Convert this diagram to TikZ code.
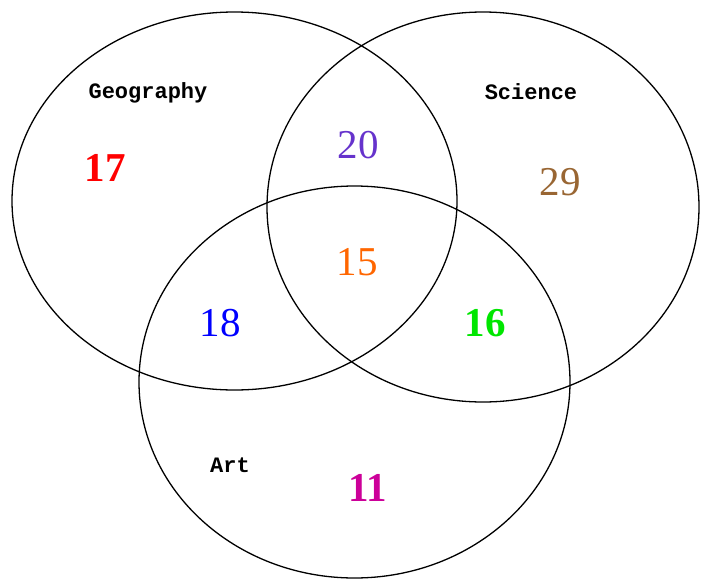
\documentclass[tikz,border=0pt]{standalone}
\usepackage{fontspec}
\setmainfont{Liberation Serif}
\setmonofont{Liberation Mono}
\usepackage{xcolor}
\usetikzlibrary{positioning}
\definecolor{numpurple}{RGB}{102,51,204}
\definecolor{numbrown}{RGB}{153,102,51}
\definecolor{numorange}{RGB}{255,102,0}
\definecolor{numgreen}{RGB}{0,230,0}
\definecolor{nummagenta}{RGB}{204,0,153}

\begin{document}
\begin{tikzpicture}[
            x=1pt, y=-1pt,
            circ/.style={draw, line width=1.3pt},
            lbl/.style={font=\fontsize{22}{24}\selectfont\ttfamily\bfseries, inner sep=0pt},
            num/.style={font=\fontsize{41}{43}\selectfont, inner sep=0pt},
            bnum/.style={font=\fontsize{41}{43}\selectfont\bfseries, inner sep=0pt},
        ]
            \useasboundingbox (0,0) rectangle (702,581);
            \draw[circ] (234.5,201) ellipse [x radius=222.5, y radius=189];
            \draw[circ] (483,207) ellipse [x radius=216, y radius=195];
            \draw[circ] (354.5,382) ellipse [x radius=215.5, y radius=196];

            \node[lbl] (geo) at (148,93) {Geography};
            \node[lbl] (sci) at (531,92) {Science};
            \node[lbl] (art) at (230,465) {Art};

            \node[bnum, text=red] (onlygeo) at (105,168) {17};
            \node[num, text=numpurple] (geosci) at (358,145) {20};
            \node[num, text=numbrown] (onlysci) at (560,182) {29};
            \node[num, text=numorange] (all) at (357,262) {15};
            \node[num, text=blue] (geoart) at (220,323) {18};
            \node[bnum, text=numgreen] (sciart) at (485,323) {16};
            \node[bnum, text=nummagenta] (onlyart) at (368,488) {11};
        \end{tikzpicture}
\end{document}
